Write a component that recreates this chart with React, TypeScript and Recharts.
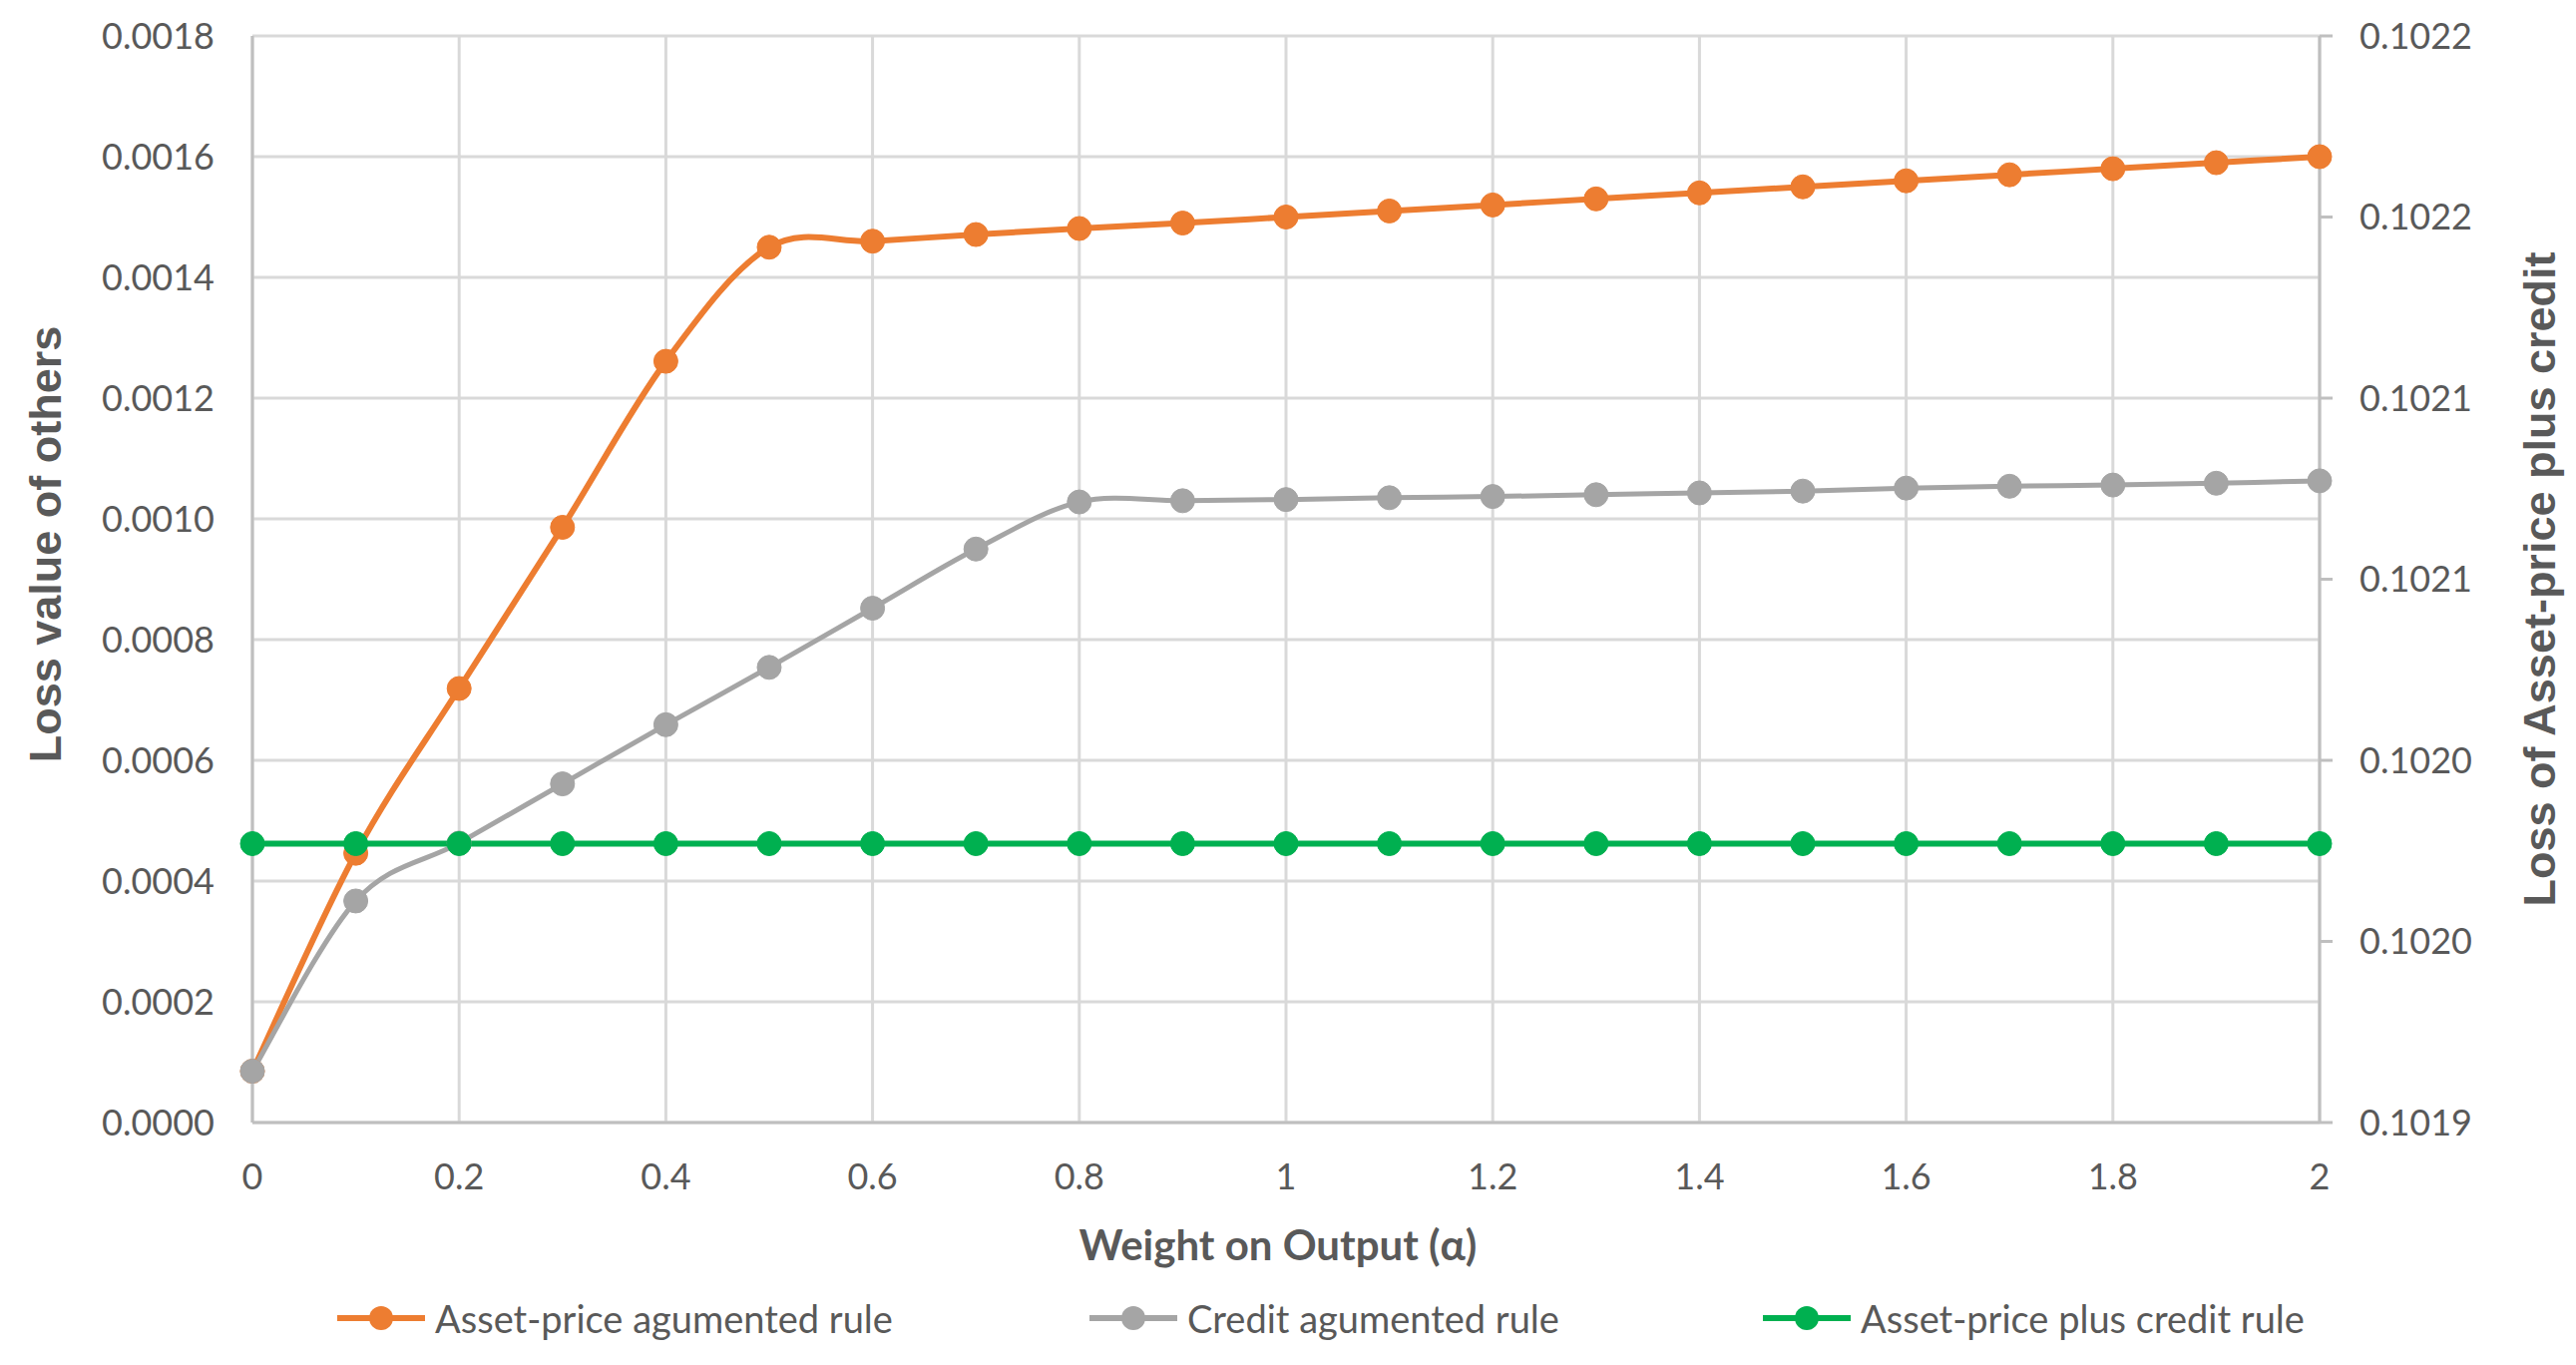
import React from 'react';
import { LineChart, Line, XAxis, YAxis, CartesianGrid, Legend } from 'recharts';

// ---- data ----
const alphas = [0, 0.1, 0.2, 0.3, 0.4, 0.5, 0.6, 0.7, 0.8, 0.9, 1, 1.1, 1.2, 1.3, 1.4, 1.5, 1.6, 1.7, 1.8, 1.9, 2];

const assetPriceRule = [
  0.000085, 0.000446, 0.000719, 0.000986, 0.001261, 0.00145, 0.00146, 0.001471, 0.001481, 0.00149,
  0.0015, 0.00151, 0.00152, 0.00153, 0.00154, 0.00155, 0.00156, 0.00157, 0.00158, 0.00159, 0.0016,
];

const creditRule = [
  0.000085, 0.000367, 0.000463, 0.000561, 0.000659, 0.000754, 0.000852, 0.00095, 0.001028, 0.00103,
  0.001032, 0.001035, 0.001037, 0.00104, 0.001043, 0.001046, 0.001051, 0.001054, 0.001056, 0.001059, 0.001063,
];

// plotted on the right axis
const assetPricePlusCreditRule = [
  0.101977, 0.101977, 0.101977, 0.101977, 0.101977, 0.101977, 0.101977, 0.101977, 0.101977, 0.101977,
  0.101977, 0.101977, 0.101977, 0.101977, 0.101977, 0.101977, 0.101977, 0.101977, 0.101977, 0.101977, 0.101977,
];

const xTicks = [0, 0.2, 0.4, 0.6, 0.8, 1, 1.2, 1.4, 1.6, 1.8, 2];
const xTickLabels = ['0', '0.2', '0.4', '0.6', '0.8', '1', '1.2', '1.4', '1.6', '1.8', '2'];
const leftTicks = [0, 0.0002, 0.0004, 0.0006, 0.0008, 0.001, 0.0012, 0.0014, 0.0016, 0.0018];
const leftTickLabels = ['0.0000', '0.0002', '0.0004', '0.0006', '0.0008', '0.0010', '0.0012', '0.0014', '0.0016', '0.0018'];
const rightTicks = [0.1019, 0.10195, 0.102, 0.10205, 0.1021, 0.10215, 0.1022];
const rightTickLabels = ['0.1019', '0.1020', '0.1020', '0.1021', '0.1021', '0.1022', '0.1022'];

const seriesNames = ['Asset-price agumented rule', 'Credit agumented rule', 'Asset-price plus credit rule'];
const seriesColors = ['#ED7D31', '#A5A5A5', '#00B050'];

const data = alphas.map((a, i) => ({
  alpha: a,
  asset: assetPriceRule[i],
  credit: creditRule[i],
  combined: assetPricePlusCreditRule[i],
}));

// ---- Excel-like smoothed line (Catmull-Rom style Bezier) ----
const excelSmooth: any = (context: any) => {
  let pts: number[][] = [];
  return {
    areaStart() {},
    areaEnd() {},
    lineStart() {
      pts = [];
    },
    point(x: number, y: number) {
      pts.push([+x, +y]);
    },
    lineEnd() {
      const n = pts.length;
      if (!n) return;
      context.moveTo(pts[0][0], pts[0][1]);
      if (n === 1) return;
      if (n === 2) {
        context.lineTo(pts[1][0], pts[1][1]);
        return;
      }
      for (let i = 0; i < n - 1; i++) {
        const p0 = pts[i === 0 ? 0 : i - 1];
        const p1 = pts[i];
        const p2 = pts[i + 1];
        const p3 = pts[i + 2 < n ? i + 2 : n - 1];
        const c1x = p1[0] + (p2[0] - p0[0]) / 6;
        const c1y = p1[1] + (p2[1] - p0[1]) / 6;
        const c2x = p2[0] - (p3[0] - p1[0]) / 6;
        const c2y = p2[1] - (p3[1] - p1[1]) / 6;
        context.bezierCurveTo(c1x, c1y, c2x, c2y, p2[0], p2[1]);
      }
    },
  };
};

const TEXT = '#595959';
const FONT = 'Lato, "Open Sans", sans-serif';
const TITLE_FONT = '"Liberation Sans", Arial, sans-serif';

const legendLefts = [338, 1092, 1767];

function LegendContent() {
  return (
    <div style={{ position: 'relative', width: '100%', height: 60 }}>
      {seriesNames.map((name, i) => (
        <div
          key={name}
          style={{
            position: 'absolute',
            left: legendLefts[i],
            top: 0,
            height: 60,
            display: 'flex',
            alignItems: 'center',
            whiteSpace: 'nowrap',
          }}
        >
          <svg width={88} height={30} style={{ display: 'block' }}>
            <line x1={0} y1={15} x2={88} y2={15} stroke={seriesColors[i]} strokeWidth={6} />
            <circle cx={44} cy={15} r={12} fill={seriesColors[i]} />
          </svg>
          <span style={{ marginLeft: 10, fontSize: 38, color: TEXT, fontFamily: FONT, lineHeight: '60px' }}>
            {name}
          </span>
        </div>
      ))}
    </div>
  );
}

const XTitle = (props: any) => {
  const vb = props.viewBox || {};
  return (
    <text
      x={vb.x + vb.width / 2 - 8}
      y={vb.y + 122}
      textAnchor="middle"
      dominantBaseline="central"
      fill={TEXT}
      fontFamily={FONT}
      fontWeight="bold"
      fontSize={42}
    >
      Weight on Output (α)
    </text>
  );
};

const LeftTitle = (props: any) => {
  const vb = props.viewBox || {};
  const cx = vb.x + 45;
  const cy = vb.y + vb.height / 2 - 35;
  return (
    <text
      x={cx}
      y={cy}
      transform={`rotate(-90, ${cx}, ${cy})`}
      textAnchor="middle"
      dominantBaseline="central"
      fill={TEXT}
      fontFamily={TITLE_FONT}
      fontWeight="bold"
      fontSize={45}
    >
      Loss value of others
    </text>
  );
};

const RightTitle = (props: any) => {
  const vb = props.viewBox || {};
  const cx = vb.x + 220;
  const cy = vb.y + vb.height / 2;
  return (
    <text
      x={cx}
      y={cy}
      transform={`rotate(-90, ${cx}, ${cy})`}
      textAnchor="middle"
      dominantBaseline="central"
      fill={TEXT}
      fontFamily={TITLE_FONT}
      fontWeight="bold"
      fontSize={45}
    >
      Loss of Asset-price plus credit
    </text>
  );
};

const tickStyle = { fill: TEXT, fontSize: 36, fontFamily: FONT };

export default function App() {
  return (
    <div style={{ position: 'absolute', left: 0, top: 0, width: 2582, height: 1368, background: '#fff' }}>
      <LineChart width={2582} height={1368} data={data} margin={{ top: 36, right: 0, left: 0, bottom: 17 }}>
        <CartesianGrid
          yAxisId="left"
          stroke="#D9D9D9"
          strokeWidth={3}
          horizontalValues={leftTicks}
          verticalValues={xTicks}
        />
        <XAxis
          dataKey="alpha"
          type="number"
          domain={[0, 2]}
          ticks={xTicks}
          tickFormatter={(v: number, i: number) => xTickLabels[i] ?? String(v)}
          interval={0}
          height={166}
          tickLine={false}
          tickSize={0}
          tickMargin={41}
          axisLine={{ stroke: '#BFBFBF', strokeWidth: 3 }}
          tick={tickStyle}
          label={XTitle}
        />
        <YAxis
          yAxisId="left"
          orientation="left"
          width={253}
          domain={[0, 0.0018]}
          ticks={leftTicks}
          interval={0}
          tickFormatter={(v: number, i: number) => leftTickLabels[i] ?? String(v)}
          tickLine={false}
          tickSize={0}
          tickMargin={38}
          axisLine={{ stroke: '#BFBFBF', strokeWidth: 3 }}
          tick={tickStyle}
          label={LeftTitle}
        />
        <YAxis
          yAxisId="right"
          orientation="right"
          width={257}
          domain={[0.1019, 0.1022]}
          ticks={rightTicks}
          interval={0}
          allowDataOverflow
          tickFormatter={(v: number, i: number) => rightTickLabels[i] ?? String(v)}
          tickLine={{ stroke: '#BFBFBF', strokeWidth: 3 }}
          tickSize={13}
          tickMargin={27}
          axisLine={{ stroke: '#BFBFBF', strokeWidth: 3 }}
          tick={{ ...tickStyle, textAnchor: 'start' }}
          label={RightTitle}
        />
        <Legend verticalAlign="bottom" height={60} content={LegendContent} />
        <Line
          yAxisId="left"
          dataKey="asset"
          name={seriesNames[0]}
          type={excelSmooth}
          stroke={seriesColors[0]}
          strokeWidth={6}
          dot={{ r: 12, fill: seriesColors[0], stroke: seriesColors[0], strokeWidth: 1 }}
          activeDot={false}
          isAnimationActive={false}
        />
        <Line
          yAxisId="left"
          dataKey="credit"
          name={seriesNames[1]}
          type={excelSmooth}
          stroke={seriesColors[1]}
          strokeWidth={5}
          dot={{ r: 12, fill: seriesColors[1], stroke: seriesColors[1], strokeWidth: 1 }}
          activeDot={false}
          isAnimationActive={false}
        />
        <Line
          yAxisId="right"
          dataKey="combined"
          name={seriesNames[2]}
          type={excelSmooth}
          stroke={seriesColors[2]}
          strokeWidth={6}
          dot={{ r: 12, fill: seriesColors[2], stroke: seriesColors[2], strokeWidth: 1 }}
          activeDot={false}
          isAnimationActive={false}
        />
      </LineChart>
    </div>
  );
}
